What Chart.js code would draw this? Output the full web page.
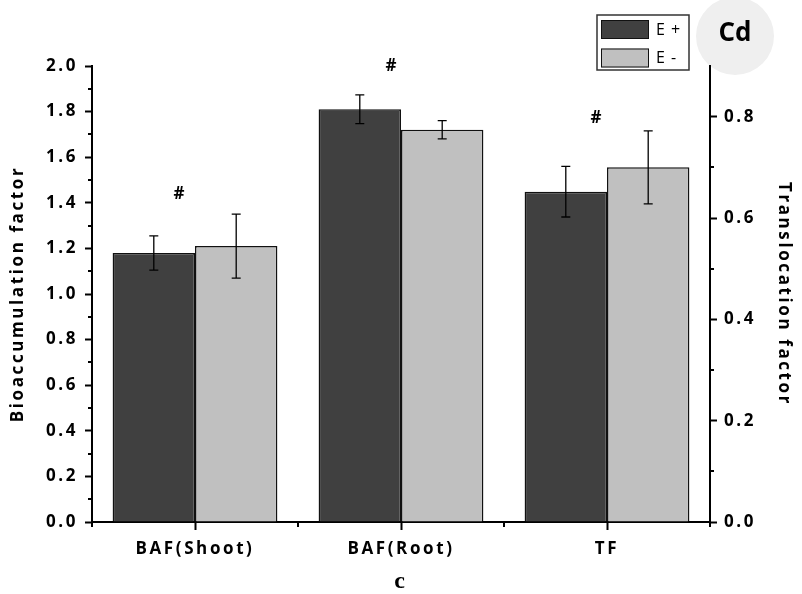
<!DOCTYPE html>
<html><head><meta charset="utf-8">
<script src="https://cdn.jsdelivr.net/npm/chart.js@4/dist/chart.umd.min.js"></script>
<style>html,body{margin:0;padding:0;background:#fff}#wrap{width:802px;height:594px}</style>
</head><body><div id="wrap"><canvas id="c" width="802" height="594"></canvas></div>
<script>
const categories = ['BAF(Shoot)', 'BAF(Root)', 'TF'];
const seriesNames = ['E +', 'E -'];
const bafEplus = [1.18, 1.81, null];
const bafEplusErr = [0.075, 0.063, null];
const bafEminus = [1.21, 1.72, null];
const bafEminusErr = [0.14, 0.04, null];
const tfEplus = [null, null, 0.652];
const tfEplusErr = [null, null, 0.05];
const tfEminus = [null, null, 0.70];
const tfEminusErr = [null, null, 0.072];
const leftTicks = [0, 0.2, 0.4, 0.6, 0.8, 1.0, 1.2, 1.4, 1.6, 1.8, 2.0];
const leftMinorTicks = [0.1, 0.3, 0.5, 0.7, 0.9, 1.1, 1.3, 1.5, 1.7, 1.9];
const rightTicks = [0, 0.2, 0.4, 0.6, 0.8];
const rightMinorTicks = [0.1, 0.3, 0.5, 0.7];
const hashCategories = [0, 1, 2];
const hashValues = [1.44, 2.0, 1.77];
const hashShift = [-16, -10, -11];
const panelLabel = 'Cd';

const colPlus = '#404040', colMinus = '#c0c0c0';
const FONT = "'Open Sans', 'DejaVu Sans', sans-serif";
const SP = '2.6px';

const spacing = {
  id: 'spacing',
  beforeLayout(c) { c.ctx.letterSpacing = SP; },
  beforeDraw(c) {
    c.ctx.letterSpacing = SP;
    const ctx = c.ctx;
    ctx.save();
    ctx.fillStyle = '#efefef';
    ctx.beginPath(); ctx.arc(735, 36, 39, 0, Math.PI * 2); ctx.fill();
    ctx.letterSpacing = '0px';
    ctx.fillStyle = '#000';
    ctx.font = "bold 26px " + FONT;
    ctx.textAlign = 'center'; ctx.textBaseline = 'middle';
    ctx.fillText(panelLabel, 735, 34);
    ctx.restore();
  }
};

const extras = {
  id: 'extras',
  afterDatasetsDraw(c) {
    const ctx = c.ctx;
    ctx.save();
    ctx.strokeStyle = '#000'; ctx.lineWidth = 1.3;
    c.data.datasets.forEach((ds, di) => {
      const meta = c.getDatasetMeta(di);
      const sc = c.scales[ds.yAxisID];
      ds.data.forEach((v, i) => {
        const e = ds.errors[i];
        if (v == null || e == null) return;
        const x = meta.data[i].x;
        const y1 = sc.getPixelForValue(v + e), y2 = sc.getPixelForValue(v - e);
        ctx.beginPath();
        ctx.moveTo(x, y1); ctx.lineTo(x, y2);
        ctx.moveTo(x - 4.5, y1); ctx.lineTo(x + 4.5, y1);
        ctx.moveTo(x - 4.5, y2); ctx.lineTo(x + 4.5, y2);
        ctx.stroke();
      });
    });
    ctx.restore();
  },
  afterDraw(c) {
    const ctx = c.ctx, a = c.chartArea;
    const xs = c.scales.x, ys = c.scales.y, y1s = c.scales.y1;
    ctx.save();
    ctx.strokeStyle = '#000'; ctx.lineWidth = 2;
    ctx.beginPath();
    leftMinorTicks.forEach(v => { const y = Math.round(ys.getPixelForValue(v)); ctx.moveTo(a.left - 4, y); ctx.lineTo(a.left, y); });
    rightMinorTicks.forEach(v => { const y = Math.round(y1s.getPixelForValue(v)); ctx.moveTo(a.right, y); ctx.lineTo(a.right + 4, y); });
    const bx = [a.left, a.right];
    for (let i = 0; i < categories.length - 1; i++) bx.push((xs.getPixelForValue(i) + xs.getPixelForValue(i + 1)) / 2);
    bx.forEach(x => { x = Math.round(x); ctx.moveTo(x, a.bottom); ctx.lineTo(x, a.bottom + 5); });
    ctx.stroke();
    // significance marks
    ctx.letterSpacing = '0px';
    ctx.fillStyle = '#000';
    ctx.font = "bold 17px " + FONT;
    ctx.textAlign = 'center'; ctx.textBaseline = 'middle';
    hashCategories.forEach((ci, k) => {
      ctx.fillText('#', xs.getPixelForValue(ci) + hashShift[k], ys.getPixelForValue(hashValues[k]));
    });
    // legend
    ctx.fillStyle = '#fff';
    ctx.strokeStyle = '#333'; ctx.lineWidth = 1.5;
    ctx.fillRect(597, 15, 92, 55); ctx.strokeRect(597, 15, 92, 55);
    const cols = [colPlus, colMinus];
    ctx.font = "16px " + FONT; ctx.textAlign = 'left';
    ctx.letterSpacing = '1px';
    seriesNames.forEach((n, k) => {
      const y = 20 + k * 28.5;
      ctx.fillStyle = cols[k]; ctx.fillRect(601, y, 48, 19);
      ctx.strokeStyle = '#111'; ctx.lineWidth = 1; ctx.strokeRect(601.5, y + 0.5, 47, 18);
      ctx.fillStyle = '#000'; ctx.fillText(n, 656, y + 10);
    });
    ctx.restore();
  }
};

const axisCommon = {
  border: { display: true, color: '#000', width: 2 },
  grid: { drawOnChartArea: false, drawTicks: true, tickLength: 7, tickWidth: 2, tickColor: '#000' },
};

new Chart(document.getElementById('c'), {
  type: 'bar',
  data: {
    labels: categories,
    datasets: [
      { label: seriesNames[0], data: bafEplus, errors: bafEplusErr, yAxisID: 'y', backgroundColor: colPlus },
      { label: seriesNames[1], data: bafEminus, errors: bafEminusErr, yAxisID: 'y', backgroundColor: colMinus },
      { label: seriesNames[0], data: tfEplus, errors: tfEplusErr, yAxisID: 'y1', backgroundColor: colPlus },
      { label: seriesNames[1], data: tfEminus, errors: tfEminusErr, yAxisID: 'y1', backgroundColor: colMinus }
    ]
  },
  options: {
    responsive: false,
    animation: false,
    devicePixelRatio: 1,
    skipNull: true,
    categoryPercentage: 0.8,
    barPercentage: 1.0,
    borderColor: '#111',
    borderWidth: 1.5,
    layout: { padding: { top: 66, left: 0, right: 0, bottom: 0 } },
    plugins: { legend: { display: false }, tooltip: { enabled: false } },
    scales: {
      x: {
        offset: true,
        border: { display: true, color: '#000', width: 2 },
        grid: { offset: false, drawOnChartArea: false, drawTicks: true, tickLength: 8, tickWidth: 2, tickColor: '#000' },
        ticks: { color: '#000', font: { family: FONT, weight: 'bold', size: 17 }, padding: 9, maxRotation: 0 },
        title: { display: true, text: 'c', color: '#000', font: { family: "'Liberation Serif', serif", weight: 'bold', size: 24, lineHeight: 1 }, padding: { top: 0, bottom: 0 } },
        afterFit: s => { s.height = 72; }
      },
      y: Object.assign({}, axisCommon, {
        position: 'left', min: 0, max: 2.0,
        afterBuildTicks: s => { s.ticks = leftTicks.map(v => ({ value: v })); },
        ticks: { color: '#000', font: { family: FONT, weight: 'bold', size: 17 }, padding: 7, callback: v => Number(v).toFixed(1) },
        title: { display: true, text: 'Bioaccumulation factor', color: '#000', font: { family: FONT, weight: 'bold', size: 17 }, padding: { top: 8, bottom: 0 } },
        afterFit: s => { s.width = 92; }
      }),
      y1: Object.assign({}, axisCommon, {
        position: 'right', min: 0, max: 0.9,
        afterBuildTicks: s => { s.ticks = rightTicks.map(v => ({ value: v })); },
        ticks: { color: '#000', font: { family: FONT, weight: 'bold', size: 17 }, padding: 7, callback: v => Number(v).toFixed(1) },
        title: { display: true, text: 'Translocation factor', color: '#000', font: { family: FONT, weight: 'bold', size: 17 }, padding: { top: 8, bottom: 0 } },
        afterFit: s => { s.width = 92; }
      })
    }
  },
  plugins: [spacing, extras]
});
</script></body></html>
